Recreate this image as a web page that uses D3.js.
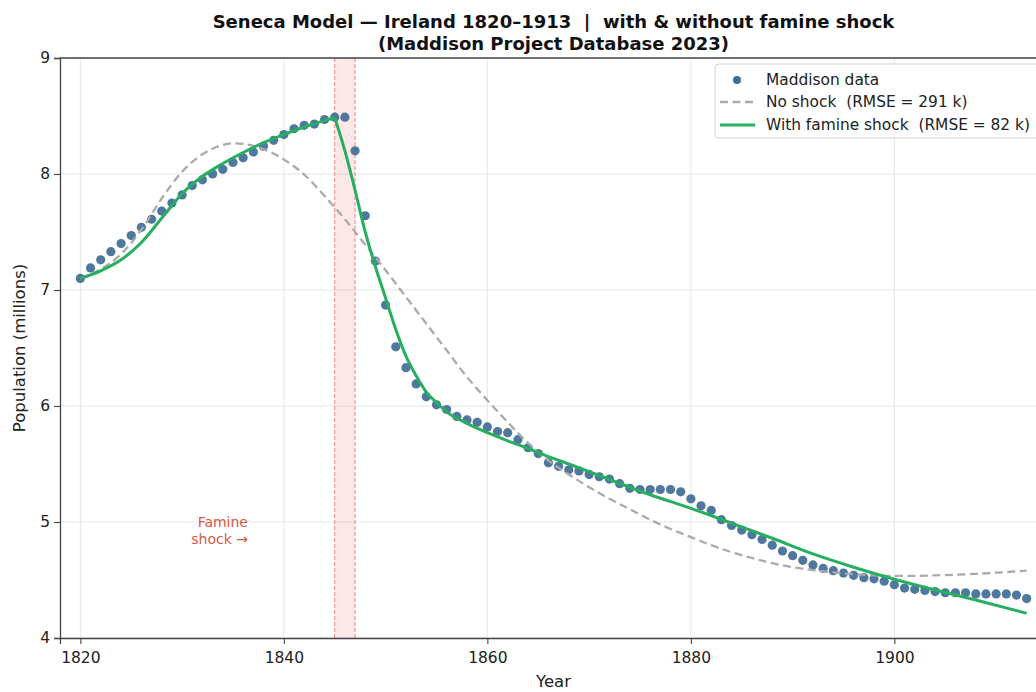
<!DOCTYPE html>
<html><head><meta charset="utf-8">
<script src="https://cdn.jsdelivr.net/npm/d3@7"></script>
<style>
html,body{margin:0;padding:0;background:#fff;}
text{font-family:"DejaVu Sans",sans-serif;white-space:pre;}
</style></head>
<body><svg id="chart" width="1036" height="692"></svg>
<script>
// ---- data ----
const years = d3.range(1820, 1914);
const maddison = [
 7.10,7.19,7.26,7.33,7.40,7.47,7.54,7.61,7.68,7.75,
 7.82,7.90,7.95,8.00,8.04,8.10,8.14,8.19,8.24,8.29,
 8.34,8.39,8.42,8.43,8.47,8.49,8.49,8.20,7.64,7.25,
 6.87,6.51,6.33,6.19,6.08,6.01,5.97,5.91,5.88,5.86,
 5.82,5.78,5.77,5.71,5.64,5.59,5.51,5.48,5.45,5.44,
 5.41,5.39,5.37,5.33,5.29,5.28,5.28,5.28,5.28,5.26,
 5.20,5.14,5.10,5.02,4.97,4.93,4.89,4.85,4.80,4.75,
 4.71,4.67,4.63,4.60,4.58,4.56,4.54,4.52,4.51,4.49,
 4.46,4.43,4.42,4.41,4.40,4.39,4.39,4.39,4.38,4.38,
 4.38,4.38,4.37,4.34];

const noShockYears = [1820,1822,1824,1826,1828,1830,1832,1834,1835,1836,1838,1840,1842,1844,1846,1848,1850,1852,1854,1856,1858,1860,1862,1864,1866,1868,1870,1872,1874,1876,1878,1880,1882,1884,1886,1888,1890,1892,1894,1896,1898,1900,1902,1904,1906,1908,1910,1913];
const noShock = [7.10,7.18,7.31,7.52,7.79,8.02,8.17,8.25,8.265,8.26,8.215,8.125,7.995,7.81,7.61,7.39,7.17,6.94,6.71,6.48,6.25,6.05,5.86,5.68,5.53,5.41,5.30,5.20,5.11,5.02,4.94,4.87,4.80,4.74,4.69,4.645,4.61,4.585,4.565,4.55,4.54,4.535,4.535,4.54,4.545,4.553,4.563,4.58];

const preShockYears = [1820,1822,1824,1826,1828,1830,1832,1834,1836,1838,1840,1842,1844,1845];
const preShock = [7.10,7.165,7.26,7.41,7.62,7.83,7.98,8.09,8.185,8.27,8.34,8.405,8.46,8.485];
const postShockYears = [1845,1846,1847,1848,1849,1850,1851,1852,1853,1854,1855,1856,1858,1860,1862,1864,1866,1868,1870,1873,1876,1880,1884,1888,1892,1896,1900,1904,1908,1913];
const postShock = [8.485,8.20,7.86,7.50,7.20,6.93,6.66,6.43,6.26,6.12,6.03,5.95,5.85,5.77,5.70,5.635,5.563,5.50,5.434,5.333,5.235,5.118,4.99,4.86,4.725,4.61,4.506,4.414,4.328,4.213];

const shockStart = 1845, shockEnd = 1847;
const xTicks = [1820,1840,1860,1880,1900];
const yTicks = [4,5,6,7,8,9];
const titleLines = ["Seneca Model \u2014 Ireland 1820\u20131913  |  with & without famine shock","(Maddison Project Database 2023)"];
const legendLabels = ["Maddison data","No shock  (RMSE = 291 k)","With famine shock  (RMSE = 82 k)"];

// ---- layout ----
const svg = d3.select("#chart");
const L = 60, T = 58, R = 1047, B = 638;
const x = d3.scaleLinear().domain([1818, 1915]).range([L, R]);
const y = d3.scaleLinear().domain([4, 9]).range([B, T]);

const COL_DOT = "#3f6c96", COL_GREEN = "#27ae60", COL_GRAY = "#aaaaaa", COL_RED = "#e74c3c";

svg.append("defs").append("clipPath").attr("id","clip")
  .append("rect").attr("x",L).attr("y",T).attr("width",R-L).attr("height",B-T);

// grid
const g = svg.append("g");
g.selectAll(".gx").data(xTicks).join("line")
  .attr("x1",d=>x(d)).attr("x2",d=>x(d)).attr("y1",T).attr("y2",B)
  .attr("stroke","#e6e6e6").attr("stroke-width",1);
g.selectAll(".gy").data(yTicks).join("line")
  .attr("x1",L).attr("x2",R).attr("y1",d=>y(d)).attr("y2",d=>y(d))
  .attr("stroke","#e6e6e6").attr("stroke-width",1);

// famine band
const plot = svg.append("g").attr("clip-path","url(#clip)");
plot.append("rect").attr("x",x(shockStart)).attr("y",T)
  .attr("width",x(shockEnd)-x(shockStart)).attr("height",B-T)
  .attr("fill",COL_RED).attr("fill-opacity",0.12);
plot.selectAll(".band").data([shockStart,shockEnd]).join("line")
  .attr("x1",d=>x(d)).attr("x2",d=>x(d)).attr("y1",T).attr("y2",B)
  .attr("stroke",COL_RED).attr("stroke-opacity",0.65).attr("stroke-width",1)
  .attr("stroke-dasharray","4,2");

// dots
plot.selectAll(".dot").data(years.map((yr,i)=>[yr,maddison[i]])).join("circle")
  .attr("cx",d=>x(d[0])).attr("cy",d=>y(d[1])).attr("r",4.6)
  .attr("fill",COL_DOT).attr("fill-opacity",0.92);

// lines
const line = d3.line().x(d=>x(d[0])).y(d=>y(d[1])).curve(d3.curveMonotoneX);
plot.append("path").datum(noShockYears.map((yr,i)=>[yr,noShock[i]]))
  .attr("d",line).attr("fill","none").attr("stroke",COL_GRAY)
  .attr("stroke-width",2.3).attr("stroke-dasharray","8,4.5");
plot.append("path").datum(preShockYears.map((yr,i)=>[yr,preShock[i]]))
  .attr("d",line).attr("fill","none").attr("stroke",COL_GREEN).attr("stroke-width",3);
plot.append("path").datum(postShockYears.map((yr,i)=>[yr,postShock[i]]))
  .attr("d",line).attr("fill","none").attr("stroke",COL_GREEN).attr("stroke-width",3);

// famine text
const ft = svg.append("text").attr("x",248).attr("y",522).attr("text-anchor","end")
  .attr("fill","#d35a4a").attr("font-size",14);
ft.append("tspan").attr("x",248).attr("dy","0.35em").text("Famine");
ft.append("tspan").attr("x",248).attr("dy","1.25em").text("shock \u2192");

// axes
const xAxis = svg.append("g").attr("transform",`translate(0,${B})`)
  .call(d3.axisBottom(x).tickValues(xTicks).tickFormat(d3.format("d")).tickSize(6).tickPadding(8));
const yAxis = svg.append("g").attr("transform",`translate(${L},0)`)
  .call(d3.axisLeft(y).tickValues(yTicks).tickFormat(d3.format("d")).tickSize(6).tickPadding(4));
[xAxis,yAxis].forEach(a=>{
  a.select(".domain").attr("stroke","#444").attr("stroke-width",1.3);
  a.selectAll(".tick line").attr("stroke","#444").attr("stroke-width",1.1);
  a.selectAll(".tick text").attr("font-size",15.5).attr("fill","#222").attr("font-family","DejaVu Sans");
});
svg.append("line").attr("x1",L).attr("x2",R).attr("y1",T).attr("y2",T)
  .attr("stroke","#444").attr("stroke-width",1.3);
svg.append("line").attr("x1",R).attr("x2",R).attr("y1",T).attr("y2",B)
  .attr("stroke","#444").attr("stroke-width",1.3);

// axis labels
svg.append("text").attr("x",(L+R)/2).attr("y",687).attr("text-anchor","middle")
  .attr("font-size",16.5).attr("fill","#222").text("Year");
svg.append("text").attr("transform",`translate(19,${(T+B)/2}) rotate(-90)`)
  .attr("text-anchor","middle").attr("dominant-baseline","central")
  .attr("font-size",16.5).attr("fill","#222").text("Population (millions)");

// title
svg.selectAll(".title").data(titleLines).join("text")
  .attr("x",(L+R)/2).attr("y",(d,i)=>28+i*22).attr("text-anchor","middle")
  .attr("font-size",18).attr("font-weight","bold").attr("fill","#111").text(d=>d);

// legend
const lg = svg.append("g");
lg.append("rect").attr("x",715).attr("y",64).attr("width",330).attr("height",74).attr("rx",4)
  .attr("fill","#fff").attr("fill-opacity",0.85).attr("stroke","#d0d0d0");
const rows = [80,102,125];
lg.append("circle").attr("cx",737).attr("cy",rows[0]).attr("r",4).attr("fill",COL_DOT);
lg.append("line").attr("x1",720).attr("x2",755).attr("y1",rows[1]).attr("y2",rows[1])
  .attr("stroke",COL_GRAY).attr("stroke-width",2.3).attr("stroke-dasharray","8,4.5");
lg.append("line").attr("x1",720).attr("x2",755).attr("y1",rows[2]).attr("y2",rows[2])
  .attr("stroke",COL_GREEN).attr("stroke-width",3);
lg.selectAll(".lt").data(legendLabels).join("text")
  .attr("x",766).attr("y",(d,i)=>rows[i]).attr("dominant-baseline","central")
  .attr("font-size",15.4).attr("fill","#222").text(d=>d);
</script></body></html>
